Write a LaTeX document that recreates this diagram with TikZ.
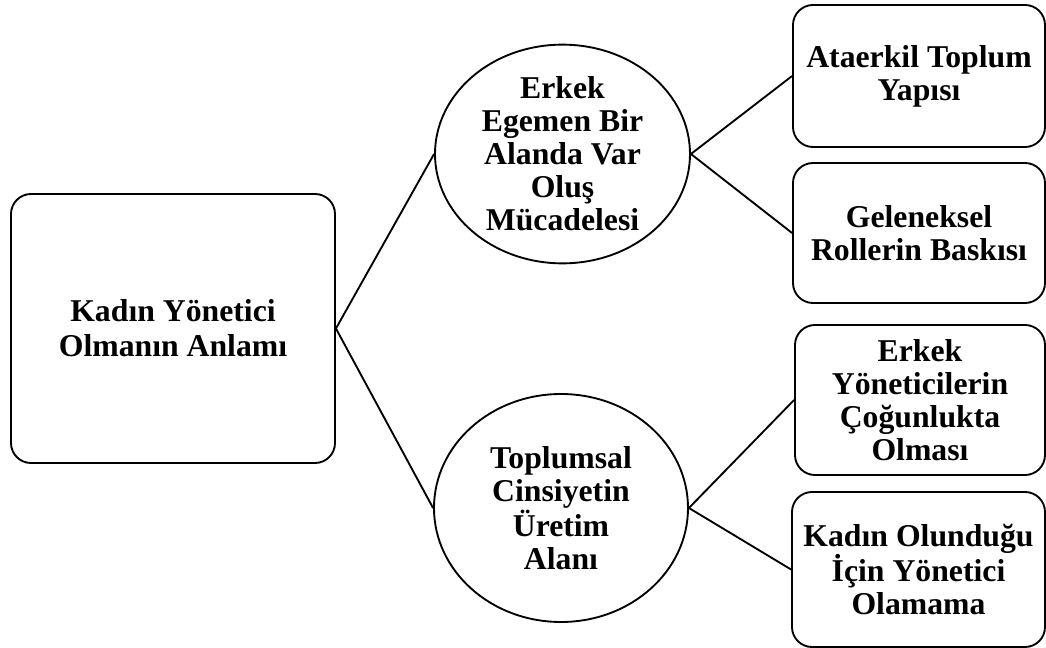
\documentclass[tikz,border=0pt]{standalone}
\usepackage{fontspec}
\setmainfont{Liberation Serif}
\usetikzlibrary{shapes.geometric}
\begin{document}
\begin{tikzpicture}[x=0.75pt,y=-0.75pt,
  label/.style={font=\fontsize{23.8}{24.8}\selectfont\bfseries, align=center, line width=1.4pt, inner sep=0pt},
  card/.style={label, draw, rectangle, rounded corners=15pt},
  theme/.style={label, draw, ellipse},
  link/.style={line width=1.4pt}]
\useasboundingbox (0,0) rectangle (1046,648);

\node[card, minimum width=243pt, minimum height=201.75pt,
      font=\fontsize{23.8}{26.2}\selectfont\bfseries] at (173,328.5) (root)
  {Kadın Yönetici\\Olmanın Anlamı};

\node[theme, minimum width=191.25pt, minimum height=148.5pt] at (562.5,154) (tup)
  {Erkek\\Egemen Bir\\Alanda Var\\Oluş\\Mücadelesi};
\node[theme, minimum width=190.5pt, minimum height=171pt] at (561,508) (tlow)
  {Toplumsal\\Cinsiyetin\\Üretim\\Alanı};

\node[card, minimum width=189pt, minimum height=106.5pt] at (919,76) (ata)
  {Ataerkil Toplum\\Yapısı};
\node[card, minimum width=189pt, minimum height=105pt] at (919,233) (gel)
  {Geleneksel\\Rollerin Baskısı};
\node[card, minimum width=187.5pt, minimum height=112.5pt] at (920,400) (erk)
  {Erkek\\Yöneticilerin\\Çoğunlukta\\Olması};
\node[card, minimum width=189.75pt, minimum height=116.25pt] at (918.5,569.5) (kad)
  {Kadın Olunduğu\\İçin Yönetici\\Olamama};

\draw[link] (root.east) -- (tup.west);
\draw[link] (root.east) -- (tlow.west);
\draw[link] (tup.east) -- (ata.west);
\draw[link] (tup.east) -- (gel.west);
\draw[link] (tlow.east) -- (erk.west);
\draw[link] (tlow.east) -- (kad.west);

\end{tikzpicture}
\end{document}
